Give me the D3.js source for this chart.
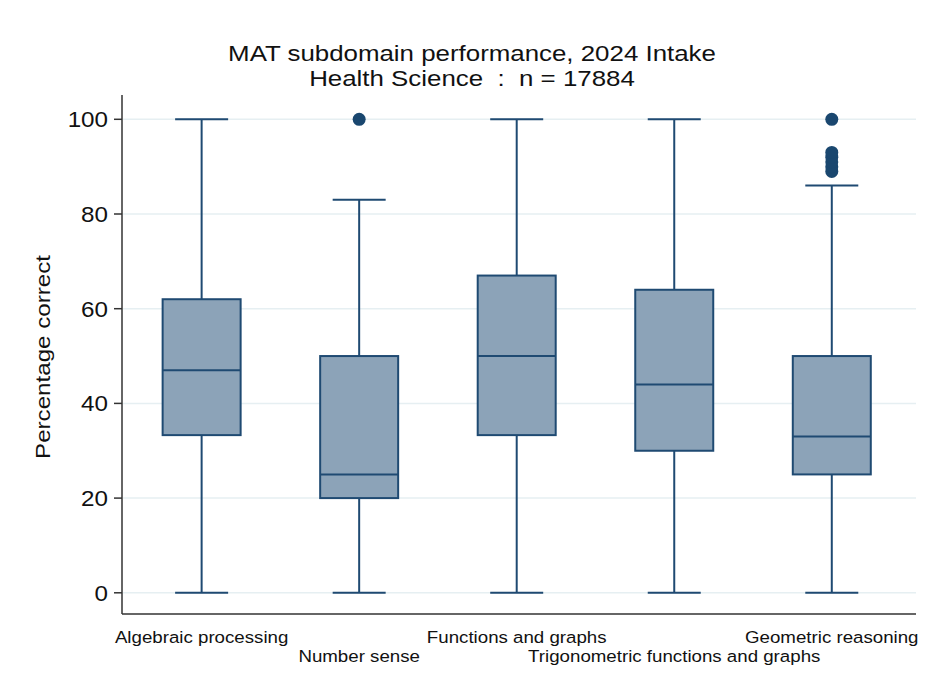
<!DOCTYPE html>
<html>
<head>
<meta charset="utf-8">
<script src="https://cdn.jsdelivr.net/npm/d3@7"></script>
<style>
  html, body { margin: 0; padding: 0; background: #fff; }
  svg { display: block; font-family: "Liberation Sans", Arial, sans-serif; }
</style>
</head>
<body>
<svg id="chart" width="928" height="684"></svg>
<script>
// Subdomain categories and box-plot summaries (percentage correct)
const categories = ["Algebraic processing", "Number sense", "Functions and graphs",
                    "Trigonometric functions and graphs", "Geometric reasoning"];
const whiskerLow  = [0, 0, 0, 0, 0];
const q1          = [33.3, 20, 33.3, 30, 25];
const median      = [47, 25, 50, 44, 33];
const q3          = [62, 50, 67, 64, 50];
const whiskerHigh = [100, 83, 100, 100, 86];
const outliers    = [[], [100], [], [], [89, 90, 91, 92, 93, 100]];
const yTicks      = [0, 20, 40, 60, 80, 100];

const titleLines = ["MAT subdomain performance, 2024 Intake", "Health Science  :  n = 17884"];
const yLabel = "Percentage correct";

const svg = d3.select("#chart");
const left = 122, right = 916, axisTop = 95, axisBottom = 614;

const x = d3.scalePoint().domain(categories).range([left, right]).padding(0.52).align(0.486);
const y = d3.scaleLinear().domain([0, 100]).range([592.8, 119.3]);

const navy = "#1f4a72";
const fill = "#8ca3b8";

// the graph text is set slightly wide, so every label is stretched along its baseline
function wideText(sel, size, sx) {
  return sel.attr("font-size", size).attr("fill", "#111")
    .style("white-space", "pre");
}

// horizontal grid lines
svg.append("g").selectAll("line").data(yTicks).join("line")
  .attr("x1", left + 1).attr("x2", right)
  .attr("y1", d => y(d)).attr("y2", d => y(d))
  .attr("stroke", "#e6eff2").attr("stroke-width", 1.5);

// y axis: line, ticks and labels
svg.append("line").attr("x1", left).attr("x2", left).attr("y1", axisTop).attr("y2", axisBottom)
  .attr("stroke", "#333").attr("stroke-width", 1.5);
const yt = svg.append("g").selectAll("g").data(yTicks).join("g");
yt.append("line").attr("x1", left - 8).attr("x2", left)
  .attr("y1", d => y(d)).attr("y2", d => y(d))
  .attr("stroke", "#333").attr("stroke-width", 1.5);
wideText(yt.append("text"), 22, 1.1)
  .attr("transform", d => `translate(${left - 14},${y(d) + 8}) scale(1.1,1)`)
  .attr("text-anchor", "end")
  .text(d => y.tickFormat()(d));

// x axis line and staggered category labels
svg.append("line").attr("x1", left).attr("x2", right).attr("y1", axisBottom).attr("y2", axisBottom)
  .attr("stroke", "#333").attr("stroke-width", 1.5);
wideText(svg.append("g").selectAll("text").data(categories).join("text"), 17, 1.1)
  .attr("transform", (d, i) => `translate(${x(d)},${i % 2 === 0 ? 643 : 662}) scale(1.1,1)`)
  .attr("text-anchor", "middle")
  .text(d => d);

// y axis title
wideText(svg.append("text"), 21, 1.15)
  .attr("transform", "translate(50,357) rotate(-90) scale(1.15,1)")
  .attr("text-anchor", "middle")
  .text(yLabel);

// chart title
wideText(svg.append("g").selectAll("text").data(titleLines).join("text"), 22.5, 1.15)
  .attr("transform", (d, i) => `translate(472,${61 + i * 25}) scale(1.15,1)`)
  .attr("text-anchor", "middle")
  .text(d => d);

// box plots
const boxW = 78, capW = 53;
const rows = categories.map((c, i) => ({
  c, lo: whiskerLow[i], q1: q1[i], med: median[i], q3: q3[i], hi: whiskerHigh[i], out: outliers[i]
}));
const g = svg.append("g").selectAll("g").data(rows).join("g");

g.append("line").attr("x1", d => x(d.c)).attr("x2", d => x(d.c))
  .attr("y1", d => y(d.hi)).attr("y2", d => y(d.q3)).attr("stroke", navy).attr("stroke-width", 2);
g.append("line").attr("x1", d => x(d.c)).attr("x2", d => x(d.c))
  .attr("y1", d => y(d.q1)).attr("y2", d => y(d.lo)).attr("stroke", navy).attr("stroke-width", 2);
g.append("line").attr("x1", d => x(d.c) - capW / 2).attr("x2", d => x(d.c) + capW / 2)
  .attr("y1", d => y(d.hi)).attr("y2", d => y(d.hi)).attr("stroke", navy).attr("stroke-width", 2);
g.append("line").attr("x1", d => x(d.c) - capW / 2).attr("x2", d => x(d.c) + capW / 2)
  .attr("y1", d => y(d.lo)).attr("y2", d => y(d.lo)).attr("stroke", navy).attr("stroke-width", 2);
g.append("rect")
  .attr("x", d => x(d.c) - boxW / 2).attr("width", boxW)
  .attr("y", d => y(d.q3)).attr("height", d => y(d.q1) - y(d.q3))
  .attr("fill", fill).attr("stroke", navy).attr("stroke-width", 2);
g.append("line").attr("x1", d => x(d.c) - boxW / 2).attr("x2", d => x(d.c) + boxW / 2)
  .attr("y1", d => y(d.med)).attr("y2", d => y(d.med)).attr("stroke", navy).attr("stroke-width", 2);
g.selectAll("circle").data(d => d.out.map(v => ({ c: d.c, v }))).join("circle")
  .attr("cx", d => x(d.c)).attr("cy", d => y(d.v)).attr("r", 6.5).attr("fill", "#1a476f");
</script>
</body>
</html>
